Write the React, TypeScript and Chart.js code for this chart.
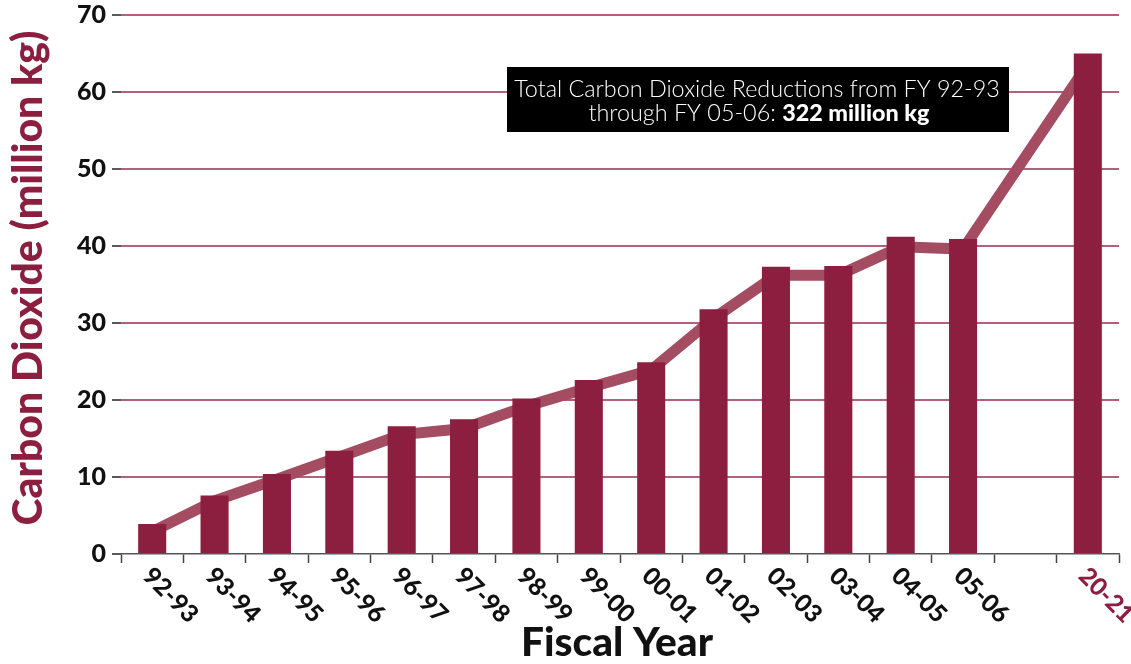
import React, { useEffect, useRef } from "react";
import { Chart, registerables } from "chart.js";

Chart.register(...registerables);

const categories: string[] = [
  "92-93", "93-94", "94-95", "95-96", "96-97", "97-98", "98-99", "99-00",
  "00-01", "01-02", "02-03", "03-04", "04-05", "05-06", "", "20-21",
];
const barValues: (number | null)[] = [
  3.9, 7.6, 10.4, 13.4, 16.6, 17.5, 20.2, 22.6, 24.9, 31.8, 37.3, 37.4, 41.2, 40.9, null, 65.0,
];
const trendValues: (number | null)[] = [
  2.9, 6.9, 9.7, 12.6, 15.5, 16.3, 19.2, 21.6, 23.9, 30.6, 36.2, 36.2, 39.9, 39.6, null, 63.6,
];
const yTicks: number[] = [0, 10, 20, 30, 40, 50, 60, 70];
const yTitle = "Carbon Dioxide (million kg)";
const xTitle = "Fiscal Year";
const noteLine1 = "Total Carbon Dioxide Reductions from FY 92-93";
const noteLine2a = "through FY 05-06: ";
const noteLine2b = "322 million kg";

const FAMILY = "Lato, 'DejaVu Sans', sans-serif";
const MAROON = "#8c1f3f";
const TREND = "#a44c62";
const GRID = "#b5607b";

function fitSize(text: string, width: number, weight: string): number {
  const c = document.createElement("canvas").getContext("2d")!;
  c.font = `${weight} 100px ${FAMILY}`;
  return (100 * width) / c.measureText(text).width;
}

export default function App() {
  const ref = useRef<HTMLCanvasElement | null>(null);

  useEffect(() => {
    if (!ref.current) return;
    const tickSize = fitSize("70", 29, "900");
    const xLabelSize = fitSize("92-93", 66, "900");
    const yTitleSize = fitSize(yTitle, 495, "900");
    const xTitleSize = fitSize(xTitle, 192, "900");
    const noteSize = fitSize(noteLine1, 486, "300");

    const textPlugin = {
      id: "texts",
      afterDraw(chart: any) {
        const ctx = chart.ctx as CanvasRenderingContext2D;
        const xs = chart.scales.x;
        const area = chart.chartArea;
        ctx.save();
        ctx.font = `900 ${xLabelSize}px ${FAMILY}`;
        ctx.textAlign = "left";
        ctx.textBaseline = "middle";
        categories.forEach((lab, i) => {
          if (!lab) return;
          const x = xs.getPixelForValue(i);
          ctx.save();
          ctx.translate(x - 5, area.bottom + 18);
          ctx.rotate(Math.PI / 4);
          ctx.fillStyle = i === categories.length - 1 ? MAROON : "#111";
          ctx.fillText(lab, 0, 0);
          ctx.restore();
        });
        ctx.save();
        ctx.translate(29, 278);
        ctx.rotate(-Math.PI / 2);
        ctx.font = `900 ${yTitleSize}px ${FAMILY}`;
        ctx.fillStyle = MAROON;
        ctx.textAlign = "center";
        ctx.textBaseline = "middle";
        ctx.fillText(yTitle, 0, 0);
        ctx.restore();
        ctx.font = `900 ${xTitleSize}px ${FAMILY}`;
        ctx.fillStyle = "#111";
        ctx.textAlign = "center";
        ctx.textBaseline = "alphabetic";
        ctx.fillText(xTitle, 617, 656);
        ctx.fillStyle = "#000";
        ctx.fillRect(507, 67, 502, 65);
        ctx.fillStyle = "#fff";
        ctx.font = `300 ${noteSize}px ${FAMILY}`;
        ctx.textAlign = "center";
        ctx.fillText(noteLine1, 757, 96.5);
        ctx.textAlign = "left";
        const wA = ctx.measureText(noteLine2a).width;
        ctx.font = `900 ${noteSize}px ${FAMILY}`;
        const wB = ctx.measureText(noteLine2b).width;
        const start = 759 - (wA + wB) / 2;
        ctx.font = `300 ${noteSize}px ${FAMILY}`;
        ctx.fillText(noteLine2a, start, 120.5);
        ctx.font = `900 ${noteSize}px ${FAMILY}`;
        ctx.fillText(noteLine2b, start + wA, 120.5);
        ctx.restore();
      },
    };

    const chart = new Chart(ref.current, {
      type: "bar",
      data: {
        labels: categories,
        datasets: [
          {
            type: "bar",
            data: barValues,
            backgroundColor: MAROON,
            barPercentage: 0.45,
            categoryPercentage: 1,
            order: 0,
          },
          {
            type: "line",
            data: trendValues,
            borderColor: TREND,
            borderWidth: 11,
            pointRadius: 0,
            spanGaps: true,
            tension: 0,
            order: 1,
          },
        ] as any,
      },
      options: {
        animation: false,
        responsive: false,
        layout: { padding: { top: 15, right: 12, left: 0, bottom: 0 } },
        plugins: { legend: { display: false }, tooltip: { enabled: false } },
        scales: {
          x: {
            offset: true,
            ticks: { display: false },
            grid: {
              offset: true,
              drawOnChartArea: false,
              drawTicks: true,
              tickLength: 9,
              tickColor: "#444",
              tickWidth: 1.5,
            },
            border: { display: true, color: "#555", width: 1.5 },
            afterFit: (s: any) => {
              s.height = 110;
              s.paddingLeft = 0;
              s.paddingRight = 0;
            },
          },
          y: {
            min: 0,
            max: 70,
            afterBuildTicks: (s: any) => {
              s.ticks = yTicks.map((v) => ({ value: v }));
            },
            ticks: {
              font: { family: FAMILY, size: tickSize, weight: "900" as any },
              color: "#111",
              padding: 6,
            },
            grid: {
              color: (c: any) => (c.tick && c.tick.value === 0 ? "rgba(0,0,0,0)" : GRID),
              lineWidth: 2,
              tickLength: 9,
              tickColor: "#222",
              tickWidth: 1.5,
            },
            border: { display: false },
            afterFit: (s: any) => {
              s.width = 121;
              s.paddingTop = 0;
              s.paddingBottom = 0;
            },
          },
        },
      },
      plugins: [textPlugin],
    });
    return () => chart.destroy();
  }, []);

  return (
    <div style={{ position: "fixed", left: 0, top: 0, width: 1131, height: 664, background: "#fff" }}>
      <canvas ref={ref} width={1131} height={664} style={{ display: "block" }} />
    </div>
  );
}
